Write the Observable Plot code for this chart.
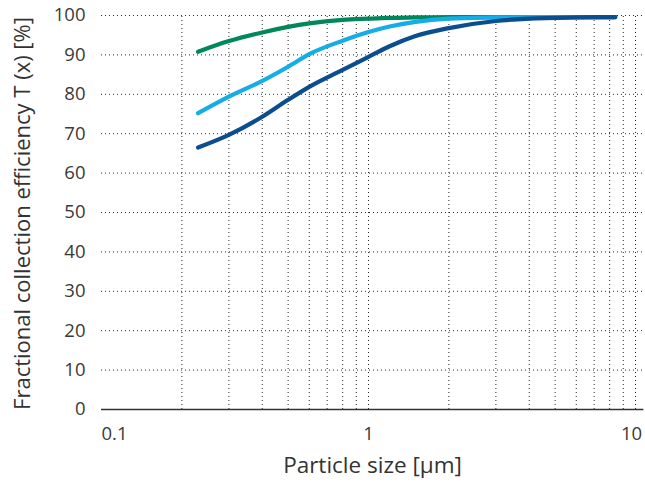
<!DOCTYPE html>
<html>
<head>
<meta charset="utf-8">
<script src="https://cdn.jsdelivr.net/npm/d3@7"></script>
<script src="https://cdn.jsdelivr.net/npm/@observablehq/plot@0.6"></script>
<style>
  html, body { margin: 0; padding: 0; background: #fff; }
  #chart { width: 645px; height: 493px; }
</style>
</head>
<body>
<div id="chart"></div>
<script>
const sizes = [0.23, 0.3, 0.4, 0.5, 0.6, 0.8, 1, 1.2, 1.5, 2, 3, 4, 6, 8.4];
const greenVals = [90.8, 93.5, 95.7, 97.1, 98.0, 98.9, 99.2, 99.4, 99.5, 99.6, 99.6, 99.6, 99.6, 99.6];
const lightVals = [75.2, 79.4, 83.4, 87.0, 90.2, 93.6, 95.8, 97.2, 98.4, 99.2, 99.5, 99.6, 99.6, 99.6];
const darkVals  = [66.5, 69.7, 74.3, 78.6, 81.9, 86.2, 89.5, 92.2, 94.8, 96.8, 98.6, 99.2, 99.5, 99.6];

const seriesNames = ["green", "light", "dark"];
const seriesColors = ["#00885c", "#14ade6", "#0a4e8f"];

const xGrid = [0.2, 0.3, 0.4, 0.5, 0.6, 0.7, 0.8, 0.9, 1, 2, 3, 4, 5, 6, 7, 8, 9, 10];
const xTickLabels = [0.1, 1, 10];
const yTicks = [0, 10, 20, 30, 40, 50, 60, 70, 80, 90, 100];

const xLabel = "Particle size [µm]";
const yLabel = "Fractional collection efficiency T (x) [%]";

const allVals = [greenVals, lightVals, darkVals];
const rows = [];
seriesNames.forEach((s, i) => sizes.forEach((x, j) => rows.push({series: s, x, y: allVals[i][j]})));

const font = "'Open Sans', sans-serif";
const chart = Plot.plot({
  width: 645,
  height: 493,
  marginLeft: 101,
  marginRight: 10,
  marginTop: 15,
  marginBottom: 84,
  style: {fontFamily: font, color: "#3a3a3a", background: "#fff", overflow: "visible"},
  x: {type: "log", domain: [0.1, 10]},
  y: {domain: [0, 100]},
  color: {domain: seriesNames, range: seriesColors},
  marks: [
    Plot.ruleX(xGrid, {y1: 0, y2: 100, stroke: "#2a2a2a", strokeWidth: 1, strokeDasharray: "1,3"}),
    Plot.ruleY(yTicks.filter(d => d > 0), {x1: 0.1, x2: 10.75, stroke: "#2a2a2a", strokeWidth: 1, strokeDasharray: "1,3"}),
    Plot.ruleY([0], {x1: 0.1, x2: 10.75, stroke: "#333", strokeWidth: 1.6}),
    Plot.axisY(yTicks, {tickSize: 0, tickPadding: 16, fontSize: 18.5, label: null}),
    Plot.axisX([xTickLabels[0]], {tickSize: 0, tickPadding: 17, fontSize: 18.5, textAnchor: "start", label: null, tickFormat: d => String(d)}),
    Plot.axisX([xTickLabels[1]], {tickSize: 0, tickPadding: 17, fontSize: 18.5, label: null, tickFormat: d => String(d)}),
    Plot.axisX([xTickLabels[2]], {tickSize: 0, tickPadding: 17, fontSize: 18.5, dx: -4, label: null, tickFormat: d => String(d)}),
    Plot.line(rows, {x: "x", y: "y", z: "series", stroke: "series", strokeWidth: 4.2, curve: "monotone-x", strokeLinecap: "round"}),
    Plot.text([xLabel], {frameAnchor: "bottom", dy: 63, fontSize: 22.5, fill: "#333", dx: 4}),
    Plot.text([yLabel], {frameAnchor: "left", textAnchor: "middle", rotate: -90, dx: -79, dy: 1, fontSize: 22, fill: "#333"})
  ]
});
document.getElementById("chart").appendChild(chart);
</script>
</body>
</html>
